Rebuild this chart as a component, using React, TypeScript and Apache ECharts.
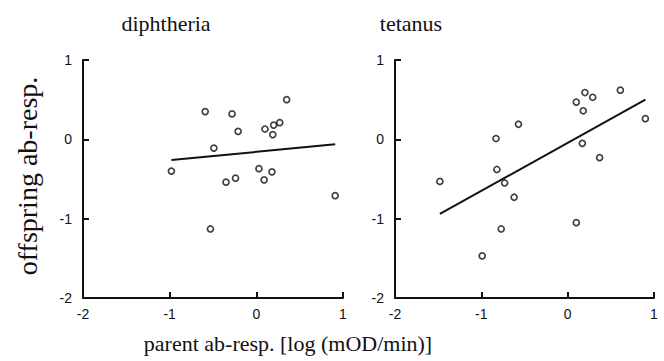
import React, { useEffect, useRef } from "react";
import * as echarts from "echarts";

const panelTitles = ["diphtheria", "tetanus"];
const axisTicks = [-2, -1, 0, 1];
const yAxisTitle = "offspring ab-resp.";
const xAxisTitle = "parent ab-resp. [log (mOD/min)]";

const diphtheriaX = [-0.98, -0.59, -0.28, -0.21, -0.49, -0.35, -0.24, -0.53, 0.03, 0.09, 0.18, 0.1, 0.19, 0.2, 0.27, 0.35, 0.91];
const diphtheriaY = [-0.4, 0.35, 0.32, 0.1, -0.11, -0.54, -0.49, -1.13, -0.37, -0.51, -0.41, 0.13, 0.06, 0.18, 0.21, 0.5, -0.71];
const diphtheriaFitX = [-0.98, 0.91];
const diphtheriaFitY = [-0.26, -0.063];

const tetanusX = [-1.48, -0.83, -0.82, -0.73, -0.62, -0.57, -0.77, -0.99, 0.1, 0.1, 0.18, 0.2, 0.29, 0.17, 0.37, 0.61, 0.9];
const tetanusY = [-0.53, 0.01, -0.38, -0.55, -0.73, 0.19, -1.13, -1.47, -1.05, 0.47, 0.36, 0.59, 0.53, -0.05, -0.23, 0.62, 0.26];
const tetanusFitX = [-1.48, 0.9];
const tetanusFitY = [-0.94, 0.5];

const zip = (a: number[], b: number[]) => a.map((v, i) => [v, b[i]]);

export default function App() {
  const ref = useRef<HTMLDivElement>(null);
  useEffect(() => {
    if (!ref.current) return;
    const chart = echarts.init(ref.current, null, { renderer: "svg" });
    const ink = "#111";
    const axisCommon = {
      type: "value" as const,
      min: axisTicks[0],
      max: axisTicks[axisTicks.length - 1],
      interval: 1,
      splitLine: { show: false },
      axisLine: { show: true, onZero: false, lineStyle: { color: ink, width: 2 } },
      axisTick: { show: true, inside: true, length: 6, lineStyle: { color: ink, width: 2 } },
      axisLabel: { color: ink, fontFamily: "Liberation Sans", fontSize: 14 },
    };
    const scatterStyle = {
      type: "scatter" as const,
      symbol: "circle",
      symbolSize: 6,
      itemStyle: { color: "#fff", borderColor: ink, borderWidth: 1.7 },
      z: 3,
    };
    const lineStyle = {
      type: "line" as const,
      showSymbol: false,
      symbol: "none",
      lineStyle: { color: ink, width: 2 },
      z: 2,
    };
    const serif = (text: string, x: number, y: number, size: number, rot = 0) => ({
      type: "text",
      x,
      y,
      rotation: rot,
      style: {
        text,
        fontFamily: "Liberation Serif",
        fontSize: size,
        fill: ink,
        align: "center",
        verticalAlign: "middle",
      },
    });
    chart.setOption({
      animation: false,
      backgroundColor: "#fff",
      grid: [
        { left: 83, top: 60, width: 260, height: 238 },
        { left: 395, top: 60, width: 259, height: 238 },
      ],
      xAxis: [
        { ...axisCommon, gridIndex: 0, axisLabel: { ...axisCommon.axisLabel, margin: 9 } },
        { ...axisCommon, gridIndex: 1, axisLabel: { ...axisCommon.axisLabel, margin: 9 } },
      ],
      yAxis: [
        { ...axisCommon, gridIndex: 0, axisLabel: { ...axisCommon.axisLabel, margin: 11 } },
        { ...axisCommon, gridIndex: 1, axisLabel: { ...axisCommon.axisLabel, margin: 11 } },
      ],
      graphic: [
        serif(panelTitles[0], 166, 23, 22),
        serif(panelTitles[1], 411, 23, 22),
        serif(yAxisTitle, 27, 176, 28, Math.PI / 2),
        serif(xAxisTitle, 288, 343, 22),
      ],
      series: [
        { ...scatterStyle, xAxisIndex: 0, yAxisIndex: 0, data: zip(diphtheriaX, diphtheriaY) },
        { ...lineStyle, xAxisIndex: 0, yAxisIndex: 0, data: zip(diphtheriaFitX, diphtheriaFitY) },
        { ...scatterStyle, xAxisIndex: 1, yAxisIndex: 1, data: zip(tetanusX, tetanusY) },
        { ...lineStyle, xAxisIndex: 1, yAxisIndex: 1, data: zip(tetanusFitX, tetanusFitY) },
      ],
    });
    return () => chart.dispose();
  }, []);
  return (
    <div
      ref={ref}
      style={{ position: "fixed", left: 0, top: 0, width: 664, height: 361 }}
    />
  );
}
